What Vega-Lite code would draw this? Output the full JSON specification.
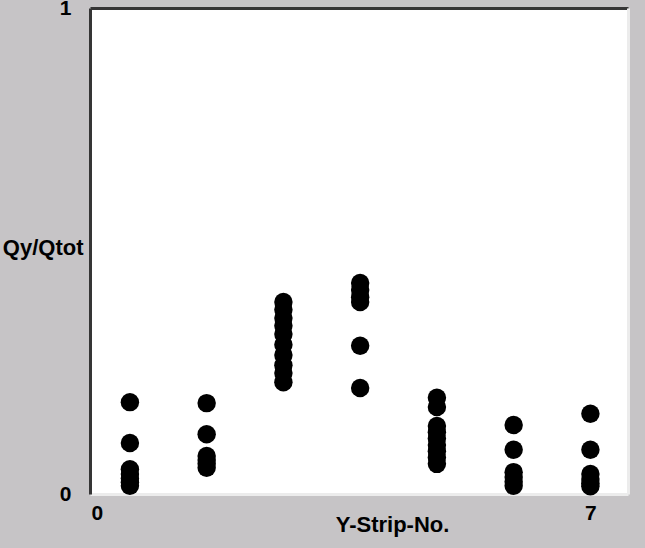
{
  "$schema": "https://vega.github.io/schema/vega-lite/v6.json",
  "autosize": {"type": "none"},
  "width": 538,
  "height": 486,
  "padding": {"left": 90, "top": 8, "right": 17, "bottom": 54},
  "background": "#c6c4c6",
  "config": {
    "view": {"fill": "white", "stroke": null},
    "axis": {
      "labelFont": "Liberation Sans",
      "titleFont": "Liberation Sans",
      "labelFontWeight": "bold",
      "titleFontWeight": "bold",
      "labelFontSize": 21,
      "titleFontSize": 22,
      "labelColor": "#000000",
      "titleColor": "#000000",
      "grid": false,
      "ticks": false
    }
  },
  "data": {
    "values": [
      {"strip": 1, "q": 0.189}, {"strip": 1, "q": 0.105}, {"strip": 1, "q": 0.051}, {"strip": 1, "q": 0.041}, {"strip": 1, "q": 0.032}, {"strip": 1, "q": 0.024}, {"strip": 1, "q": 0.017},
      {"strip": 2, "q": 0.187}, {"strip": 2, "q": 0.123}, {"strip": 2, "q": 0.078}, {"strip": 2, "q": 0.070}, {"strip": 2, "q": 0.062}, {"strip": 2, "q": 0.054},
      {"strip": 3, "q": 0.395}, {"strip": 3, "q": 0.379}, {"strip": 3, "q": 0.362}, {"strip": 3, "q": 0.346}, {"strip": 3, "q": 0.329}, {"strip": 3, "q": 0.307}, {"strip": 3, "q": 0.286}, {"strip": 3, "q": 0.265}, {"strip": 3, "q": 0.249}, {"strip": 3, "q": 0.230},
      {"strip": 4, "q": 0.434}, {"strip": 4, "q": 0.420}, {"strip": 4, "q": 0.405}, {"strip": 4, "q": 0.395}, {"strip": 4, "q": 0.305}, {"strip": 4, "q": 0.218},
      {"strip": 5, "q": 0.198}, {"strip": 5, "q": 0.179}, {"strip": 5, "q": 0.140}, {"strip": 5, "q": 0.127}, {"strip": 5, "q": 0.114}, {"strip": 5, "q": 0.101}, {"strip": 5, "q": 0.088}, {"strip": 5, "q": 0.075}, {"strip": 5, "q": 0.062},
      {"strip": 6, "q": 0.142}, {"strip": 6, "q": 0.091}, {"strip": 6, "q": 0.045}, {"strip": 6, "q": 0.035}, {"strip": 6, "q": 0.025}, {"strip": 6, "q": 0.017},
      {"strip": 7, "q": 0.165}, {"strip": 7, "q": 0.091}, {"strip": 7, "q": 0.041}, {"strip": 7, "q": 0.031}, {"strip": 7, "q": 0.022}, {"strip": 7, "q": 0.016}
    ]
  },
  "layer": [
    {
      "mark": {"type": "point", "filled": true, "shape": "circle", "color": "#000000", "opacity": 1, "size": 340},
      "encoding": {
        "x": {
          "field": "strip", "type": "quantitative",
          "scale": {"domain": [0.48, 7.49], "nice": false, "zero": false},
          "axis": {
            "orient": "bottom",
            "title": "Y-Strip-No.",
            "values": [0.57, 7],
            "labelExpr": "datum.value < 1 ? '0' : '7'",
            "labelPadding": 8,
            "labelFlush": false,
            "labelOverlap": false,
            "domainColor": "#ececec",
            "domainWidth": 3,
            "titleX": 302,
            "titleY": 20,
            "titleBaseline": "top",
            "titleAlign": "center"
          }
        },
        "y": {
          "field": "q", "type": "quantitative",
          "scale": {"domain": [0, 1], "nice": false},
          "axis": {
            "orient": "left",
            "title": "Qy/Qtot",
            "values": [0, 1],
            "format": "d",
            "labelPadding": 19,
            "labelFlush": false,
            "labelOverlap": false,
            "domainColor": "#353535",
            "domainWidth": 3,
            "titleAngle": 0,
            "titleAlign": "right",
            "titleBaseline": "middle",
            "titleX": -7,
            "titleY": 239
          }
        }
      }
    },
    {
      "mark": {"type": "point", "opacity": 0},
      "encoding": {
        "x": {
          "field": "strip", "type": "quantitative",
          "axis": {"orient": "top", "title": null, "labels": false, "domainColor": "#353535", "domainWidth": 3}
        },
        "y": {
          "field": "q", "type": "quantitative",
          "axis": {"orient": "right", "title": null, "labels": false, "domainColor": "#ececec", "domainWidth": 3}
        }
      }
    }
  ],
  "resolve": {"axis": {"x": "independent", "y": "independent"}}
}
